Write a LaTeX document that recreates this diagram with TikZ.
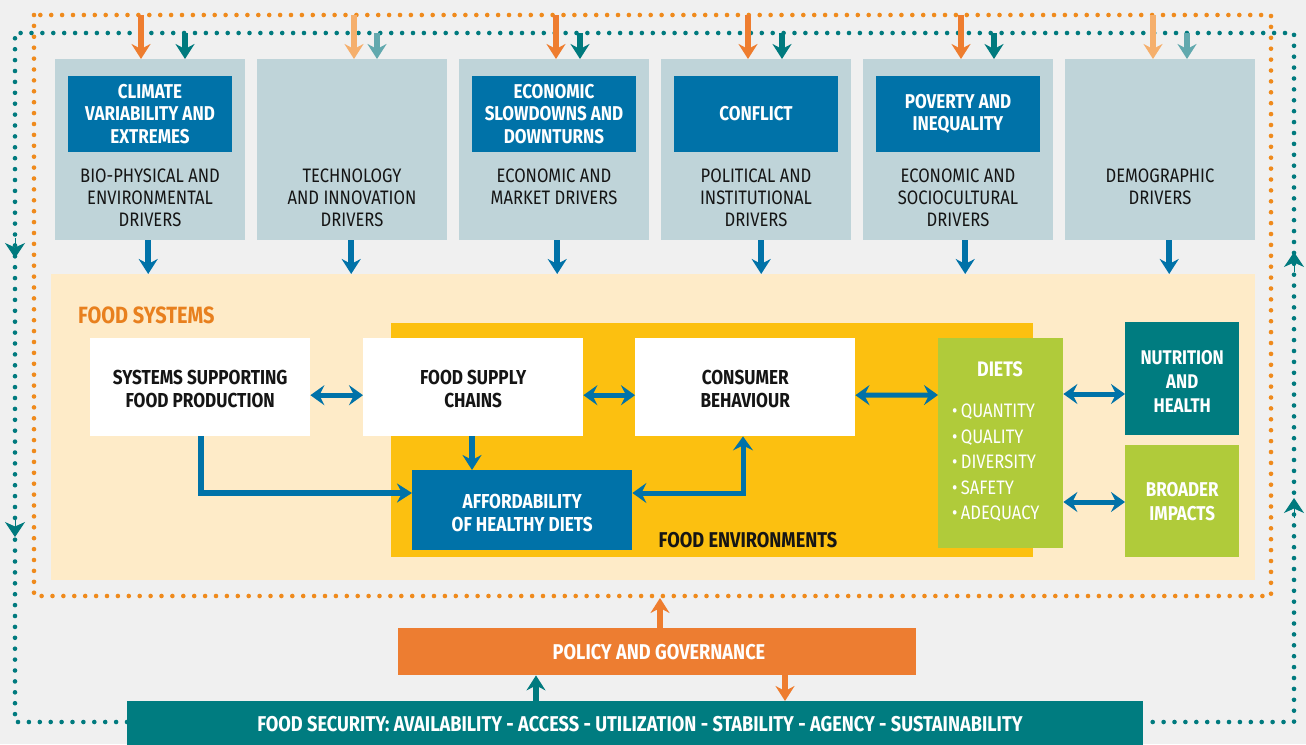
\documentclass[tikz,border=0pt]{standalone}
\usepackage{fontspec}
\setmainfont{Fira Sans}[FakeStretch=0.85]
\usetikzlibrary{arrows.meta}
\definecolor{bgc}{HTML}{F0F0F0}
\definecolor{drvbg}{HTML}{BFD4D9}
\definecolor{dblue}{HTML}{0072A8}
\definecolor{orng}{HTML}{EE7D2F}
\definecolor{orngdot}{HTML}{EF8A1C}
\definecolor{lorng}{HTML}{F5AF6C}
\definecolor{tealc}{HTML}{007A7E}
\definecolor{lteal}{HTML}{62A9AE}
\definecolor{cream}{HTML}{FEEBC8}
\definecolor{yell}{HTML}{FCC010}
\definecolor{lgreen}{HTML}{B0CB3A}
\definecolor{fsorange}{HTML}{E8801E}
\definecolor{pgorange}{HTML}{ED7D31}
\definecolor{tealbox}{HTML}{007C80}
\definecolor{txt}{HTML}{151515}
\tikzset{
  box/.style={draw=none, inner sep=0pt, align=center, anchor=north west},
  drvbox/.style={box, fill=drvbg, minimum width=190pt, minimum height=181pt},
  ttlbox/.style={draw=none, inner sep=0pt, align=center, fill=dblue, text=white,
     minimum width=164pt, minimum height=76pt, font=\fontsize{20}{22.5}\selectfont\bfseries},
  drvtxt/.style={align=center, inner sep=0pt, text=txt, font=\fontsize{19.5}{22}\selectfont},
  whitebox/.style={box, fill=white, minimum width=220pt, minimum height=98pt},
  btxt/.style={align=center, inner sep=0pt, text=txt, font=\fontsize{20.2}{23}\selectfont\bfseries},
  bigarr/.style={line width=5.5pt, -{Stealth[length=15pt,width=19pt,inset=5pt]}},
  dblarr/.style={line width=5pt, {Stealth[length=14pt,width=20pt,inset=5pt]}-{Stealth[length=14pt,width=20pt,inset=5pt]}},
  dotline/.style={line width=4.6pt, line cap=round, dash pattern=on 0pt off 10.9pt},
  chev/.style={tealc, line width=1pt, -{Stealth[length=15pt,width=20pt,inset=4.5pt]}},
  wtxt/.style={text=white, font=\fontsize{20}{24}\selectfont\bfseries, align=center, inner sep=0pt},
  bartxt/.style={text=white, font=\fontsize{21.4}{24}\selectfont\bfseries, align=center, inner sep=0pt},
}
\begin{document}
\begin{tikzpicture}[x=1pt,y=-1pt]
\fill[bgc] (0,0) rectangle (1306,744);
\useasboundingbox (0,0) rectangle (1306,744);

% dotted loops
\node[box, fill=tealbox, minimum width=1016pt, minimum height=44pt] (fsb) at (127,701) {};
\draw[dotline, tealc] (fsb.west |- 0,722) -- (15,722) -- (15,33) -- (1294,33) -- (1294,722) -- (fsb.east |- 0,722);
\draw[dotline, orngdot] (34,15) rectangle (1271,596);
\draw[chev] (15,238) -- (15,258);
\draw[chev] (15,517) -- (15,537);
\draw[chev] (1294,272) -- (1294,252);
\draw[chev] (1294,518) -- (1294,498);

% drivers
\node[drvbox] (d1) at (55,59) {};
\node[drvbox] (d2) at (257,59) {};
\node[drvbox] (d3) at (459,59) {};
\node[drvbox] (d4) at (661,59) {};
\node[drvbox] (d5) at (863,59) {};
\node[drvbox] (d6) at (1065,59) {};

\node[ttlbox] (c1) at (150,114) {CLIMATE\\VARIABILITY AND\\EXTREMES};
\node[ttlbox] (c3) at (554,114) {ECONOMIC\\SLOWDOWNS AND\\DOWNTURNS};
\node[ttlbox] (c4) at (756,114) {CONFLICT};
\node[ttlbox] (c5) at (958,114) {POVERTY AND\\INEQUALITY};

\node[drvtxt] (t1) at (150,198) {BIO-PHYSICAL AND\\ENVIRONMENTAL\\DRIVERS};
\node[drvtxt] (t2) at (352,198) {TECHNOLOGY\\AND INNOVATION\\DRIVERS};
\node[drvtxt] (t3) at (554,187) {ECONOMIC AND\\MARKET DRIVERS};
\node[drvtxt] (t4) at (756,198) {POLITICAL AND\\INSTITUTIONAL\\DRIVERS};
\node[drvtxt] (t5) at (958,198) {ECONOMIC AND\\SOCIOCULTURAL\\DRIVERS};
\node[drvtxt] (t6) at (1160,187) {DEMOGRAPHIC\\DRIVERS};

% top arrows
\coordinate (o1) at (141,15);  \coordinate (g1) at (185,33);
\coordinate (o2) at (354,15);  \coordinate (g2) at (377,33);
\coordinate (o3) at (556,15);  \coordinate (g3) at (580,33);
\coordinate (o4) at (748,15);  \coordinate (g4) at (782,33);
\coordinate (o5) at (961,15);  \coordinate (g5) at (994,33);
\coordinate (o6) at (1153,15); \coordinate (g6) at (1187,33);
\draw[bigarr, orng] (o1) -- (o1 |- d1.north);
\draw[bigarr, tealc] (g1) -- (g1 |- d1.north);
\draw[bigarr, lorng] (o2) -- (o2 |- d2.north);
\draw[bigarr, lteal] (g2) -- (g2 |- d2.north);
\draw[bigarr, orng] (o3) -- (o3 |- d3.north);
\draw[bigarr, tealc] (g3) -- (g3 |- d3.north);
\draw[bigarr, orng] (o4) -- (o4 |- d4.north);
\draw[bigarr, tealc] (g4) -- (g4 |- d4.north);
\draw[bigarr, orng] (o5) -- (o5 |- d5.north);
\draw[bigarr, tealc] (g5) -- (g5 |- d5.north);
\draw[bigarr, lorng] (o6) -- (o6 |- d6.north);
\draw[bigarr, lteal] (g6) -- (g6 |- d6.north);

% food systems
\node[box, fill=cream, minimum width=1204pt, minimum height=306pt] (fs) at (51,274) {};
\node[box, fill=yell, minimum width=642pt, minimum height=234pt] (fe) at (391,323) {};
\node[anchor=west, inner sep=0pt, text=fsorange, font=\fontsize{23.5}{26}\selectfont\bfseries] (fsl) at (78,315) {FOOD SYSTEMS};
\node[inner sep=0pt, text=txt, font=\fontsize{21.4}{24}\selectfont\bfseries] (fel) at (748,540) {FOOD ENVIRONMENTS};

\draw[bigarr, dblue] ([xshift=-2pt]d1.south) -- ([xshift=-2pt]d1.south |- fs.north);
\draw[bigarr, dblue] ([xshift=-1pt]d2.south) -- ([xshift=-1pt]d2.south |- fs.north);
\draw[bigarr, dblue] ([xshift=3pt]d3.south) -- ([xshift=3pt]d3.south |- fs.north);
\draw[bigarr, dblue] ([xshift=5pt]d4.south) -- ([xshift=5pt]d4.south |- fs.north);
\draw[bigarr, dblue] ([xshift=7pt]d5.south) -- ([xshift=7pt]d5.south |- fs.north);
\draw[bigarr, dblue] ([xshift=9pt]d6.south) -- ([xshift=9pt]d6.south |- fs.north);

\node[whitebox] (ssp) at (90,338) {};
\node[whitebox] (fsc) at (363,338) {};
\node[whitebox] (cb) at (635,338) {};
\node[btxt] (sspt) at ([yshift=-2pt]ssp.center) {SYSTEMS SUPPORTING\\FOOD PRODUCTION};
\node[btxt] (fsct) at ([yshift=-2pt]fsc.center) {FOOD SUPPLY\\CHAINS};
\node[btxt] (cbt) at ([yshift=-2pt]cb.center) {CONSUMER\\BEHAVIOUR};
\node[box, fill=dblue, minimum width=220pt, minimum height=80pt] (aff) at (412,470) {};
\node[btxt, text=white] (afft) at ([yshift=-3pt]aff.center) {AFFORDABILITY\\OF HEALTHY DIETS};
\node[box, fill=lgreen, minimum width=125pt, minimum height=210pt] (diets) at (938,338) {};
\node[wtxt, font=\fontsize{21}{24}\selectfont\bfseries] (dt) at (1000,369) {DIETS};
\node[anchor=west, align=left, inner sep=0pt, text=white, font=\fontsize{19.5}{25.5}\selectfont] (dl) at (952,463)
  {\textbullet\,QUANTITY\\\textbullet\,QUALITY\\\textbullet\,DIVERSITY\\\textbullet\,SAFETY\\\textbullet\,ADEQUACY};
\node[box, fill=tealbox, minimum width=114pt, minimum height=113pt] (nh) at (1125,322) {};
\node[wtxt, font=\fontsize{19.8}{24}\selectfont\bfseries] (nht) at ([yshift=-3pt]nh.center) {NUTRITION\\AND\\HEALTH};
\node[box, fill=lgreen, minimum width=114pt, minimum height=112pt] (bi) at (1125,445) {};
\node[wtxt] (bit) at (bi.center) {BROADER\\IMPACTS};

% inner connectors
\draw[dblarr, dblue] ([yshift=-8pt]ssp.east) -- ([yshift=-8pt]fsc.west);
\draw[dblarr, dblue] ([yshift=-8pt]fsc.east) -- ([yshift=-8pt]cb.west);
\draw[dblarr, dblue] ([yshift=-8pt]cb.east) -- (diets.west |- 0,395);
\draw[dblarr, dblue] (diets.east |- 0,394) -- (nh.west |- 0,394);
\draw[dblarr, dblue] (diets.east |- 0,502) -- (bi.west |- 0,502);
\draw[bigarr, dblue] (fsc.south -| 472,0) -- (aff.north -| 472,0);
\draw[bigarr, dblue] (ssp.south -| 201,0) |- (aff.west |- 0,493);
\draw[dblarr, dblue] (aff.east |- 0,493) -| (cb.south -| 743,0);

% policy and food security
\node[box, fill=pgorange, minimum width=518pt, minimum height=47pt] (pg) at (398,628) {};
\node[bartxt] (pgl) at (659,652) {POLICY AND GOVERNANCE};
\node[bartxt] (fsbl) at (640,724) {FOOD SECURITY: AVAILABILITY - ACCESS - UTILIZATION - STABILITY - AGENCY - SUSTAINABILITY};
\coordinate (pgtop) at (660,598);
\draw[bigarr, orng] (pg.north -| pgtop) -- (pgtop);
\draw[bigarr, tealc] (fsb.north -| 536,0) -- (pg.south -| 536,0);
\draw[bigarr, orng] (pg.south -| 785,0) -- (fsb.north -| 785,0);
\end{tikzpicture}
\end{document}
